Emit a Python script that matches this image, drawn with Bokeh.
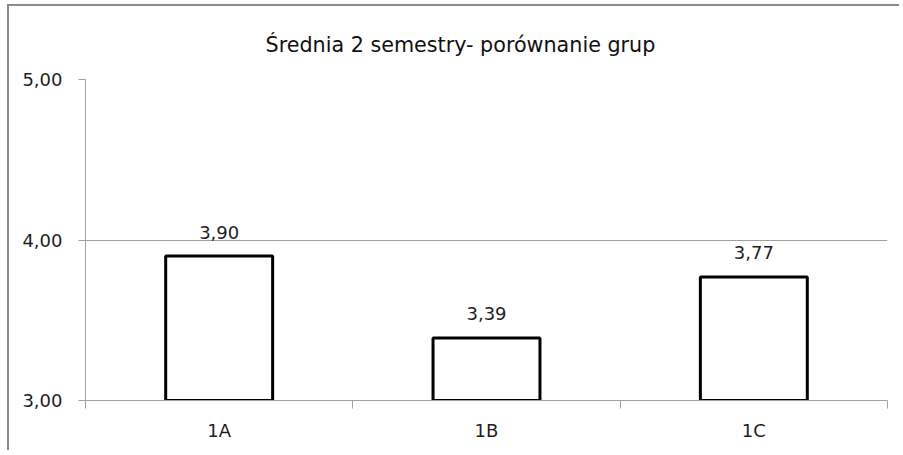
from bokeh.plotting import figure
from bokeh.models import (FixedTicker, CustomJSTickFormatter, Range1d, ColumnDataSource,
                          LinearAxis, Grid)
from bokeh.core.properties import value
from bokeh.embed import file_html
from bokeh.resources import INLINE

categories = ["1A", "1B", "1C"]
values = [3.90, 3.39, 3.77]
y_ticks = [3.0, 4.0, 5.0]
y_min, y_max = 3.0, 5.0
title_text = "Średnia 2 semestry- porównanie grup"

FONT = "DejaVu Sans"
GRAY = "#a0a0a0"
TEXT = "#1e1e1e"

x_centers = [i + 0.5 for i in range(len(categories))]
boundaries = list(range(len(categories) + 1))
labels = [f"{v:.2f}".replace(".", ",") for v in values]
src = ColumnDataSource(dict(x=x_centers, top=values, label=labels))

p = figure(width=892, height=446, output_backend="svg", toolbar_location=None,
           x_range=Range1d(0, len(categories)), y_range=Range1d(y_min, y_max),
           x_axis_type=None, y_axis_type=None,
           min_border_left=76, min_border_right=14, min_border_top=73, min_border_bottom=52,
           title=title_text)
p.styles = {"border-top": "2px solid #8a8a8a", "border-left": "2px solid #8a8a8a",
            "margin-left": "7px", "margin-top": "4px"}
p.outline_line_color = None
p.background_fill_color = "white"
p.border_fill_color = "white"

p.title.align = "left"
p.title.text_font = FONT
p.title.text_font_size = "20.7px"
p.title.text_font_style = "normal"
p.title.text_color = "#111111"
p.title.offset = 180
p.title.standoff = 46

yaxis = LinearAxis(ticker=FixedTicker(ticks=y_ticks, minor_ticks=[]),
                   formatter=CustomJSTickFormatter(code="return tick.toFixed(2).replace('.', ',')"))
yaxis.major_tick_out = 7
yaxis.major_tick_in = 0
yaxis.major_tick_line_color = GRAY
yaxis.minor_tick_line_color = None
yaxis.axis_line_color = GRAY
yaxis.major_label_standoff = 16
yaxis.major_label_text_font = FONT
yaxis.major_label_text_font_size = "18px"
yaxis.major_label_text_color = TEXT
p.add_layout(yaxis, "left")

xaxis = LinearAxis(ticker=FixedTicker(ticks=x_centers, minor_ticks=boundaries),
                   major_label_overrides={x: c for x, c in zip(x_centers, categories)})
xaxis.major_tick_line_color = None
xaxis.major_tick_out = 0
xaxis.major_tick_in = 0
xaxis.minor_tick_out = 8
xaxis.minor_tick_in = 0
xaxis.minor_tick_line_color = GRAY
xaxis.axis_line_color = GRAY
xaxis.major_label_standoff = 11
xaxis.major_label_text_font = FONT
xaxis.major_label_text_font_size = "18px"
xaxis.major_label_text_color = TEXT
p.add_layout(xaxis, "below")

p.add_layout(Grid(dimension=1, ticker=yaxis.ticker, grid_line_color=GRAY))

p.vbar(x="x", top="top", bottom=y_min, width=0.4, source=src,
       fill_color="white", line_color="black", line_width=3)
p.text(x="x", y="top", text="label", source=src, y_offset=-24,
       text_align="center", text_baseline="alphabetic",
       text_font=value(FONT), text_font_size="18px", text_color=TEXT)

open("out.html", "w").write(file_html(p, INLINE))
